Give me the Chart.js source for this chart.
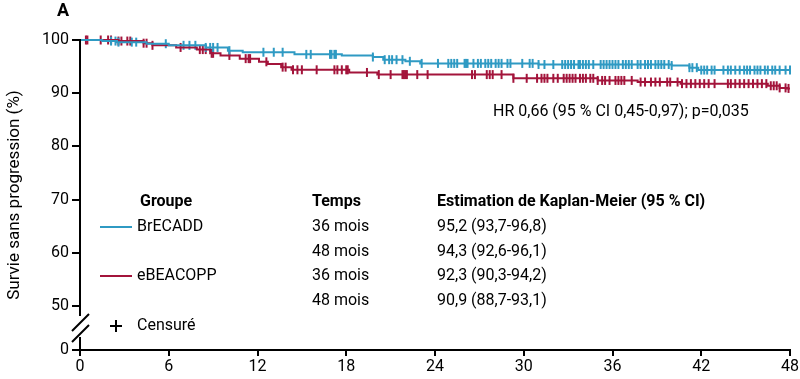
<!DOCTYPE html>
<html>
<head>
<meta charset="utf-8">
<script src="https://cdn.jsdelivr.net/npm/chart.js@4"></script>
<style>
  body { margin: 0; background: #fff; }
</style>
</head>
<body>
<canvas id="kmChart" width="800" height="379"></canvas>
<script>
// courbe BrECADD : temps (mois) et survie (%)
const brecaddTimes = [0, 1.5, 2.5, 4.5, 6.0, 8.5, 10.0, 11.0, 14.5, 17.7, 19.8, 20.5, 22.0, 23.0, 31.0, 40.0, 41.2, 41.8, 48];
const brecaddSurv  = [100, 99.8, 99.6, 99.3, 99.0, 98.6, 98.0, 97.7, 97.3, 97.1, 96.8, 96.3, 96.0, 95.6, 95.4, 95.2, 94.8, 94.35, 94.35];
const brecaddCensor = [2.1, 2.4, 2.6, 3.5, 3.8, 5.8, 7.0, 7.4, 7.8, 8.5, 8.8, 9.0, 9.3, 10.1,
  12.4, 13.1, 13.7, 15.3, 15.6, 16.9, 17.0, 17.2, 17.3, 19.8, 20.6, 20.9, 21.1, 21.4, 21.8, 22.3, 23.1,
  24.2, 24.9, 25.1, 25.3, 25.5, 26.0, 26.1, 26.2, 26.6, 26.9, 27.1, 27.4, 27.6, 27.8, 28.1, 28.3, 28.5,
  28.9, 29.1, 29.9, 30.4, 30.6, 31.0, 31.4, 32.0, 32.6, 32.8, 33.0, 33.2, 33.4, 33.7, 33.8, 34.0, 34.2,
  34.4, 34.7, 35.2, 35.4, 35.6, 35.8, 36.0, 36.2, 36.4, 36.7, 36.9, 37.1, 37.3, 37.7, 37.9, 38.2, 38.4,
  38.6, 38.9, 39.1, 39.3, 39.5, 39.8, 40.0, 41.2, 41.4, 41.7, 42.0, 42.2, 42.4, 42.7, 42.9, 43.5, 43.8,
  44.0, 44.3, 44.6, 44.9, 45.1, 45.3, 45.6, 45.8, 46.0, 46.3, 46.5, 46.8, 47.0, 47.3, 47.7, 48.0];

// courbe eBEACOPP
const ebeacoppTimes = [0, 2.6, 4.3, 4.9, 6.5, 7.9, 8.8, 9.5, 10.8, 12.1, 12.7, 13.6, 14.3, 18.2, 20.1, 29.3, 35.0, 37.7, 40.6, 46.5, 47.3, 47.8, 48];
const ebeacoppSurv  = [100, 99.8, 99.4, 99.0, 98.6, 98.2, 97.5, 97.1, 96.5, 95.9, 95.5, 94.9, 94.4, 93.9, 93.5, 92.8, 92.4, 92.1, 91.8, 91.4, 91.0, 90.9, 90.9];
const ebeacoppCensor = [0.4, 0.5, 1.4, 1.9, 2.1, 2.6, 2.8, 3.2, 3.4, 4.3, 4.5, 4.9, 6.8, 8.1, 8.3, 8.5, 8.9, 9.0,
  10.1, 11.2, 11.4, 11.5, 12.6, 13.7, 13.9, 14.4, 14.7, 15.0, 16.0, 17.2, 17.4, 17.7, 18.0, 18.1, 19.4,
  20.2, 21.0, 21.8, 21.9, 22.0, 22.1, 22.8, 23.5, 26.5, 26.7, 27.5, 27.7, 27.9, 28.5, 29.3, 30.2, 30.9,
  31.2, 31.4, 31.6, 32.0, 32.3, 32.7, 32.9, 33.1, 33.3, 33.5, 33.8, 34.0, 34.2, 34.5, 34.7, 35.0, 35.3,
  35.5, 35.8, 36.2, 36.4, 36.6, 36.8, 37.3, 37.9, 38.2, 38.6, 38.9, 39.2, 39.7, 39.9, 40.4, 40.7, 41.0,
  41.3, 41.6, 41.9, 42.2, 42.5, 42.9, 43.8, 44.0, 44.3, 44.6, 44.9, 45.2, 45.5, 45.8, 46.1, 46.4, 46.7,
  46.9, 47.1, 47.3, 47.7, 47.9];

const xTicks = [0, 6, 12, 18, 24, 30, 36, 42, 48];
const yTicks = [50, 60, 70, 80, 90, 100];
const yZeroLabel = '0';

// tableau des estimations
const groups = ['BrECADD', 'eBEACOPP'];
const tableTimes = ['36 mois', '48 mois', '36 mois', '48 mois'];
const tableKM = ['95,2 (93,7-96,8)', '94,3 (92,6-96,1)', '92,3 (90,3-94,2)', '90,9 (88,7-93,1)'];
const hrText = 'HR 0,66 (95 % CI 0,45-0,97); p=0,035';

const blue = '#2f9ac3';
const red = '#a3143b';
const FONT = 'Roboto, "Noto Sans", sans-serif';
const yBreakMin = 41.75;   // bas de l'axe après la coupure

function survAt(times, surv, t) {
  let v = surv[0];
  for (let i = 0; i < times.length; i++) {
    if (times[i] <= t) v = surv[i];
  }
  return v;
}

function curve(times, surv) {
  return times.map((t, i) => ({ x: t, y: surv[i] }));
}

function censors(times, surv, cens) {
  return cens.map(t => ({ x: t, y: survAt(times, surv, t) }));
}

const overlay = {
  id: 'overlay',
  afterDraw(chart) {
    const ctx = chart.ctx;
    const y = chart.scales.y;
    const x = chart.scales.x;
    const ax = x.left;
    ctx.save();

    // axe Y avec coupure
    ctx.strokeStyle = '#000';
    ctx.lineWidth = 2;
    ctx.beginPath();
    ctx.moveTo(ax, y.top - 1);
    ctx.lineTo(ax, 316);
    ctx.moveTo(ax, 337);
    ctx.lineTo(ax, y.bottom);
    ctx.moveTo(72, 331);
    ctx.lineTo(89, 314);
    ctx.moveTo(72, 342);
    ctx.lineTo(89, 325);
    ctx.stroke();

    // lettre du panneau
    ctx.fillStyle = '#000';
    ctx.font = 'bold 18px ' + FONT;
    ctx.textBaseline = 'middle';
    ctx.textAlign = 'left';
    ctx.fillText('A', 57, 11);

    // HR
    ctx.font = '16px ' + FONT;
    ctx.fillText(hrText, 493, 112);

    // en-têtes
    ctx.font = 'bold 16px ' + FONT;
    ctx.fillText('Groupe', 140, 202);
    ctx.fillText('Temps', 312, 202);
    ctx.fillText('Estimation de Kaplan-Meier (95 % CI)', 437, 202);

    ctx.font = '16px ' + FONT;
    const rowY = [227, 252, 276, 301];
    tableTimes.forEach((t, i) => {
      ctx.fillText(t, 312, rowY[i]);
      ctx.fillText(tableKM[i], 437, rowY[i]);
    });
    [blue, red].forEach((c, i) => {
      const ry = rowY[i * 2];
      ctx.strokeStyle = c;
      ctx.lineWidth = 2;
      ctx.beginPath();
      ctx.moveTo(100, ry);
      ctx.lineTo(132, ry);
      ctx.stroke();
      ctx.fillText(groups[i], 137, ry);
    });

    // symbole censuré
    ctx.strokeStyle = '#000';
    ctx.lineWidth = 2;
    ctx.beginPath();
    ctx.moveTo(110, 326);
    ctx.lineTo(122, 326);
    ctx.moveTo(116, 320);
    ctx.lineTo(116, 332);
    ctx.stroke();
    ctx.fillText('Censuré', 137, 326);

    ctx.restore();
  }
};

const lineDs = (label, times, surv, color) => ({
  label: label,
  data: curve(times, surv),
  borderColor: color,
  borderWidth: 2,
  stepped: true,
  pointRadius: 0,
  fill: false,
  clip: false
});

const censorDs = (times, surv, cens, color) => ({
  type: 'scatter',
  data: censors(times, surv, cens),
  borderColor: color,
  backgroundColor: color,
  pointStyle: 'line',
  rotation: 90,
  pointRadius: 4.5,
  pointBorderWidth: 2,
  showLine: false,
  clip: false
});

const config = {
  type: 'line',
  data: {
    datasets: [
      lineDs('BrECADD', brecaddTimes, brecaddSurv, blue),
      lineDs('eBEACOPP', ebeacoppTimes, ebeacoppSurv, red),
      censorDs(brecaddTimes, brecaddSurv, brecaddCensor, blue),
      censorDs(ebeacoppTimes, ebeacoppSurv, ebeacoppCensor, red)
    ]
  },
  options: {
    responsive: false,
    animation: false,
    layout: { padding: { top: 40, right: 10, left: 0, bottom: 0 } },
    plugins: {
      legend: { display: false },
      tooltip: { enabled: false }
    },
    scales: {
      x: {
        type: 'linear',
        min: 0,
        max: 48,
        afterBuildTicks: s => { s.ticks = xTicks.map(v => ({ value: v })); },
        afterFit: s => { s.height = 29; },
        grid: { drawOnChartArea: false, drawTicks: true, tickLength: 6, color: '#000', lineWidth: 2 },
        border: { display: true, color: '#000', width: 2 },
        ticks: { color: '#000', font: { family: FONT, size: 16 }, padding: 1, maxRotation: 0 }
      },
      y: {
        type: 'linear',
        min: yBreakMin,
        max: 100,
        afterBuildTicks: s => { s.ticks = [yBreakMin].concat(yTicks).map(v => ({ value: v })); },
        afterFit: s => { s.width = 80; },
        grid: { drawOnChartArea: false, drawTicks: true, tickLength: 8, color: '#000', lineWidth: 2 },
        border: { display: false },
        title: {
          display: true,
          text: 'Survie sans progression (%)',
          color: '#000',
          font: { family: FONT, size: 17 },
          padding: { top: 5, bottom: 0 }
        },
        ticks: {
          color: '#000',
          font: { family: FONT, size: 16 },
          padding: 3,
          callback: v => (v === yBreakMin ? yZeroLabel : String(v))
        }
      }
    }
  },
  plugins: [overlay]
};

const kmChart = new Chart(document.getElementById('kmChart'), config);
</script>
</body>
</html>
